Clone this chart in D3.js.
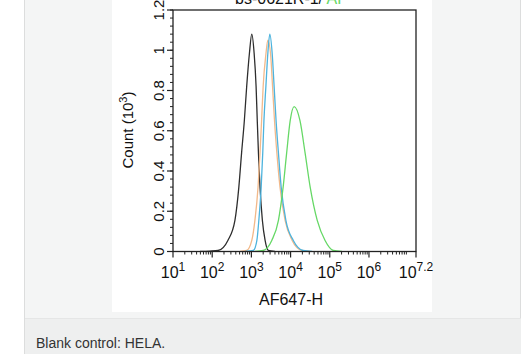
<!DOCTYPE html>
<html>
<head>
<meta charset="utf-8">
<script src="https://cdn.jsdelivr.net/npm/d3@7/dist/d3.min.js"></script>
<style>
  html, body { margin: 0; padding: 0; background: #ffffff; }
  svg { display: block; }
  text { font-family: "Liberation Sans", Arial, sans-serif; }
</style>
</head>
<body>
<svg id="chart" width="530" height="354"></svg>
<script>
// ---- Data (x values as log10 of AF647-H intensity, y as count in 10^3) ----
const blackLogX  = [1.69, 1.94, 2.15, 2.40, 2.58, 2.68, 2.75, 2.82, 2.88, 2.95, 3.01, 3.07, 3.12, 3.15, 3.18, 3.22, 3.28, 3.35, 3.43, 3.60];
const blackCount = [0.00, 0.002, 0.005, 0.055, 0.155, 0.32, 0.49, 0.65, 0.82, 0.985, 1.08, 0.985, 0.82, 0.65, 0.49, 0.32, 0.155, 0.055, 0.005, 0.00];

const orangeLogX  = [2.71, 2.88, 3.01, 3.09, 3.17, 3.22, 3.26, 3.30, 3.37, 3.42, 3.49, 3.54, 3.59, 3.65, 3.73, 3.86, 4.04, 4.29, 4.50];
const orangeCount = [0.00, 0.005, 0.055, 0.155, 0.32, 0.49, 0.65, 0.82, 0.98, 1.05, 0.98, 0.82, 0.65, 0.49, 0.32, 0.155, 0.055, 0.005, 0.00];

const blueLogX  = [2.84, 3.05, 3.14, 3.19, 3.25, 3.29, 3.32, 3.37, 3.42, 3.47, 3.53, 3.58, 3.63, 3.69, 3.76, 3.88, 4.07, 4.32, 4.55];
const blueCount = [0.00, 0.005, 0.055, 0.155, 0.32, 0.49, 0.65, 0.82, 0.985, 1.08, 0.985, 0.82, 0.65, 0.49, 0.32, 0.155, 0.055, 0.005, 0.00];

const greenLogX  = [3.09, 3.30, 3.52, 3.69, 3.81, 3.90, 3.99, 4.09, 4.24, 4.37, 4.50, 4.68, 4.88, 5.09, 5.31];
const greenCount = [0.00, 0.005, 0.055, 0.155, 0.32, 0.49, 0.65, 0.72, 0.65, 0.49, 0.32, 0.155, 0.055, 0.005, 0.00];

const seriesNames  = ["Blank control", "Isotype", "bs-0621R-AF647 (1)", "bs-0621R-AF647 (2)"];
const seriesColors = ["#2e2e2e", "#f2b98a", "#4db3dd", "#66d866"];

const xTickExponents = ["1", "2", "3", "4", "5", "6", "7.2"];
const xTickValues    = [1, 2, 3, 4, 5, 6, 7.2];
const yTickValues    = [0, 0.2, 0.4, 0.6, 0.8, 1, 1.2];
const yTickLabels    = ["0", "0.2", "0.4", "0.6", "0.8", "1", "1.2"];
const xTitle = "AF647-H";
const yTitle = "Count (10";
const caption = "Blank control: HELA.";

// ---- Layout ----
const svg = d3.select("#chart");

// page panel
svg.append("rect").attr("x", 24.5).attr("y", -1).attr("width", 496).attr("height", 319.5)
  .attr("fill", "#f4f5f5").attr("stroke", "#dcdddd").attr("stroke-width", 1);
svg.append("rect").attr("x", 24.5).attr("y", 318.5).attr("width", 496.5).attr("height", 40)
  .attr("fill", "#eeefef");
svg.append("line").attr("x1", 24.5).attr("x2", 24.5).attr("y1", 318).attr("y2", 354)
  .attr("stroke", "#dcdddd");
// image (white)
svg.append("rect").attr("x", 112).attr("y", 0).attr("width", 320).attr("height", 312)
  .attr("fill", "#ffffff");

const plot = { left: 173, right: 416, top: 10, bottom: 251.5 };

const x = d3.scaleLog().domain([10, Math.pow(10, 7.2)]).range([plot.left, plot.right]);
const y = d3.scaleLinear().domain([0, 1.2]).range([plot.bottom, plot.top]);

svg.append("clipPath").attr("id", "clip").append("rect")
  .attr("x", plot.left).attr("y", plot.top).attr("width", plot.right - plot.left).attr("height", plot.bottom - plot.top);

const series = [
  { logx: blackLogX,  cnt: blackCount },
  { logx: orangeLogX, cnt: orangeCount },
  { logx: blueLogX,   cnt: blueCount },
  { logx: greenLogX,  cnt: greenCount }
];
const line = d3.line()
  .x(d => x(Math.pow(10, d[0])))
  .y(d => y(d[1]))
  .curve(d3.curveMonotoneX);

const gLines = svg.append("g").attr("clip-path", "url(#clip)");
series.forEach((s, i) => {
  const pts = s.logx.map((v, k) => [v, s.cnt[k]]);
  gLines.append("path")
    .attr("d", line(pts))
    .attr("fill", "none")
    .attr("stroke", seriesColors[i])
    .attr("stroke-width", 1.3)
    .attr("stroke-linejoin", "round")
    .append("title").text(seriesNames[i]);
});

// frame
svg.append("rect").attr("x", plot.left).attr("y", plot.top)
  .attr("width", plot.right - plot.left).attr("height", plot.bottom - plot.top)
  .attr("fill", "none").attr("stroke", "#222").attr("stroke-width", 1.3);

// x axis ticks (major + log minor)
const gx = svg.append("g");
const majorX = xTickValues.map(e => Math.pow(10, e));
const minorX = [];
for (let d = 1; d <= 7; d++) {
  for (let m = 2; m <= 9; m++) {
    const v = m * Math.pow(10, d);
    if (v < Math.pow(10, 7.2)) minorX.push(v);
  }
}
gx.selectAll("line.minor").data(minorX).join("line")
  .attr("x1", d => x(d)).attr("x2", d => x(d))
  .attr("y1", plot.bottom).attr("y2", plot.bottom + 3)
  .attr("stroke", "#222").attr("stroke-width", 1);
gx.selectAll("line.major").data(majorX).join("line")
  .attr("x1", d => x(d)).attr("x2", d => x(d))
  .attr("y1", plot.bottom).attr("y2", plot.bottom + 6)
  .attr("stroke", "#222").attr("stroke-width", 1.2);
const xl = gx.selectAll("text.xl").data(xTickValues).join("text")
  .attr("x", d => x(Math.pow(10, d)))
  .attr("y", 278)
  .attr("text-anchor", "middle")
  .attr("font-size", 16)
  .attr("fill", "#111");
xl.append("tspan").text("10");
xl.append("tspan").attr("font-size", 12).attr("dy", -7).text((d, i) => xTickExponents[i]);

// y axis ticks
const gy = svg.append("g");
const minorY = d3.range(0, 1.2001, 0.04);
gy.selectAll("line.minor").data(minorY).join("line")
  .attr("x1", plot.left - 3).attr("x2", plot.left)
  .attr("y1", d => y(d)).attr("y2", d => y(d))
  .attr("stroke", "#222").attr("stroke-width", 1);
gy.selectAll("line.major").data(yTickValues).join("line")
  .attr("x1", plot.left - 6).attr("x2", plot.left)
  .attr("y1", d => y(d)).attr("y2", d => y(d))
  .attr("stroke", "#222").attr("stroke-width", 1.2);
gy.selectAll("text").data(yTickValues).join("text")
  .attr("transform", d => `translate(163.5,${y(d)}) rotate(-90)`)
  .attr("text-anchor", "middle")
  .attr("font-size", 15)
  .attr("fill", "#111")
  .text((d, i) => yTickLabels[i]);

// y title
const yt = svg.append("text")
  .attr("transform", "translate(133,130) rotate(-90)")
  .attr("text-anchor", "middle")
  .attr("font-size", 15)
  .attr("fill", "#111");
yt.append("tspan").text(yTitle);
yt.append("tspan").attr("font-size", 11).attr("dy", -6).text("3");
yt.append("tspan").attr("dy", 6).text(")");

// x title
svg.append("text").attr("x", 291).attr("y", 305)
  .attr("text-anchor", "middle").attr("font-size", 16).attr("fill", "#111")
  .text(xTitle);

// cut-off title at the top (as in the reference image)
const tt = svg.append("text").attr("x", 235).attr("y", 3.5).attr("font-size", 16).attr("fill", "#111");
tt.append("tspan").text("bs-0621R-1/");
tt.append("tspan").attr("fill", "#66d866").text(" AF");

// caption
svg.append("text").attr("x", 36).attr("y", 347.5)
  .attr("font-size", 14).attr("fill", "#333")
  .text(caption);
</script>
</body>
</html>
